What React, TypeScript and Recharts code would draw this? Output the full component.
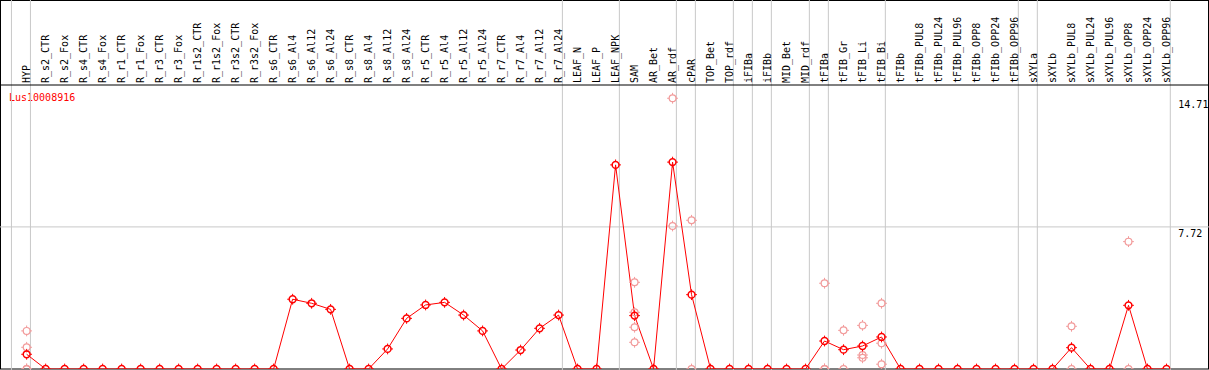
import { ComposedChart, Line, Scatter, XAxis, YAxis, ReferenceLine } from "recharts";

const categories = [
  "HYP",
  "R_s2_CTR", "R_s2_Fox", "R_s4_CTR", "R_s4_Fox", "R_r1_CTR", "R_r1_Fox", "R_r3_CTR", "R_r3_Fox",
  "R_r1s2_CTR", "R_r1s2_Fox", "R_r3s2_CTR", "R_r3s2_Fox",
  "R_s6_CTR", "R_s6_Al4", "R_s6_Al12", "R_s6_Al24", "R_s8_CTR", "R_s8_Al4", "R_s8_Al12", "R_s8_Al24",
  "R_r5_CTR", "R_r5_Al4", "R_r5_Al12", "R_r5_Al24", "R_r7_CTR", "R_r7_Al4", "R_r7_Al12", "R_r7_Al24",
  "LEAF_N", "LEAF_P", "LEAF_NPK", "SAM", "AR_Bet", "AR_rdf", "cPAR", "TOP_Bet", "TOP_rdf",
  "iFIBa", "iFIBb", "MID_Bet", "MID_rdf", "tFIBa", "tFIB_Gr", "tFIB_Li", "tFIB_Bi",
  "tFIBb", "tFIBb_PUL8", "tFIBb_PUL24", "tFIBb_PUL96", "tFIBb_OPP8", "tFIBb_OPP24", "tFIBb_OPP96",
  "sXYLa", "sXYLb", "sXYLb_PUL8", "sXYLb_PUL24", "sXYLb_PUL96", "sXYLb_OPP8", "sXYLb_OPP24", "sXYLb_OPP96",
];

// mean expression per sample
const means = [
  0.8,
  0, 0, 0, 0, 0, 0, 0, 0, 0, 0, 0, 0,
  0, 3.79, 3.57, 3.24, 0, 0, 1.09, 2.75,
  3.48, 3.62, 2.93, 2.07, 0, 1.03, 2.21, 2.93,
  0, 0, 11.09, 2.9, 0, 11.24, 4.04, 0, 0,
  0, 0, 0, 0, 1.52, 1.05, 1.25, 1.74,
  0, 0, 0, 0, 0, 0, 0,
  0, 0, 1.16, 0, 0, 3.46, 0, 0,
];

// individual replicates (only where shown)
const replicates: [string, number[]][] = [
  ["HYP", [2.07, 1.18, 0, 0]],
  ["SAM", [4.71, 3.08, 2.27, 1.45]],
  ["AR_rdf", [14.71, 7.77]],
  ["cPAR", [8.08, 0]],
  ["tFIBa", [4.66, 0, 0]],
  ["tFIB_Gr", [2.1, 0]],
  ["tFIB_Li", [2.37, 0.76, 0.61]],
  ["tFIB_Bi", [3.57, 1.4, 0.26]],
  ["sXYLb_PUL8", [2.32, 0]],
  ["sXYLb_OPP8", [6.92, 0]],
];

// last sample of each group (-1 = leading line)
const groupEnds = [-1, 0, 28, 31, 34, 35, 37, 38, 39, 41, 42, 45, 52, 53, 60];

const yTicks = [0, 7.72, 14.71];
const geneName = "Lus10008916";

const W = 1209;
const H = 370;
const Y_MAX = 15.43;
const FONT = "'DejaVu Sans Mono', monospace";

const lineData = means.map((v, i) => ({ idx: i, mean: v }));
const repData = replicates.flatMap(([name, vals]) =>
  vals.map((v) => ({ idx: categories.indexOf(name), rep: v }))
);

const marker = (color: string, sw: number) => (props: any) => {
  const { cx, cy } = props;
  if (cx == null || cy == null) return <g />;
  const r = 3.4;
  const t = 5.4;
  return (
    <g>
      <circle cx={cx} cy={cy} r={r} fill="none" stroke={color} strokeWidth={sw} />
      <path
        d={`M${cx} ${cy - t}V${cy - r}M${cx} ${cy + r}V${cy + t}M${cx - t} ${cy}H${cx - r}M${cx + r} ${cy}H${cx + t}`}
        stroke={color}
        strokeWidth={1}
      />
    </g>
  );
};

const XTick = (props: any) => {
  const { x, y, payload } = props;
  return (
    <text
      transform={`translate(${x + 3},${y}) rotate(-90)`}
      textAnchor="start"
      fontSize={10}
      fontFamily={FONT}
      fill="#000"
    >
      {categories[payload.value]}
    </text>
  );
};

const YTick = (props: any) => {
  const { x, y, payload } = props;
  const zero = payload.value === 0;
  return (
    <text
      x={x}
      y={zero ? y - 4 : y + 10}
      textAnchor="start"
      fontSize={10}
      fontFamily={FONT}
      fill="#000"
    >
      {payload.value}
    </text>
  );
};

const fullHeightV = (props: any) => (
  <line x1={props.x1} x2={props.x2} y1={0} y2={H} stroke="#c8c8c8" strokeWidth={1} />
);

const fullWidthH = (color: string) => (props: any) => (
  <line x1={0} x2={W} y1={props.y1} y2={props.y2} stroke={color} strokeWidth={1} />
);

export default function App() {
  return (
    <div style={{ width: W, height: H, background: "#fff" }}>
      <style>{"body{margin:0}"}</style>
      <ComposedChart
        width={W}
        height={H}
        data={lineData}
        margin={{ top: 0, right: 0.7, bottom: 1, left: 1 }}
      >
        <XAxis
          dataKey="idx"
          type="number"
          orientation="top"
          domain={[-1.35, 60.2]}
          ticks={categories.map((_, i) => i)}
          interval={0}
          height={85}
          axisLine={false}
          tickLine={false}
          tickSize={0}
          tickMargin={2}
          tick={<XTick />}
          allowDataOverflow
        />
        <YAxis
          type="number"
          orientation="right"
          domain={[0, Y_MAX]}
          ticks={yTicks}
          width={38}
          axisLine={false}
          tickLine={false}
          tickSize={6}
          tickMargin={2}
          tick={<YTick />}
          allowDataOverflow
        />
        {groupEnds.map((g) => (
          <ReferenceLine key={g} x={g + 0.2} ifOverflow="visible" shape={fullHeightV} />
        ))}
        <ReferenceLine y={7.72} ifOverflow="visible" shape={fullWidthH("#c8c8c8")} />
        <ReferenceLine y={Y_MAX} ifOverflow="visible" shape={fullWidthH("#000")} />
        <Scatter
          data={repData}
          dataKey="rep"
          shape={marker("#f29a9a", 1.2)}
          isAnimationActive={false}
        />
        <Line
          dataKey="mean"
          stroke="#ff0000"
          strokeWidth={1}
          dot={marker("#ff0000", 1.5)}
          activeDot={false}
          isAnimationActive={false}
        />
        <text x={9} y={101} fontSize={10} fontFamily={FONT} fill="#ff0000">
          {geneName}
        </text>
        <rect x={0.5} y={0.5} width={W - 1} height={H - 1.5} fill="none" stroke="#000" strokeWidth={1} />
      </ComposedChart>
    </div>
  );
}
